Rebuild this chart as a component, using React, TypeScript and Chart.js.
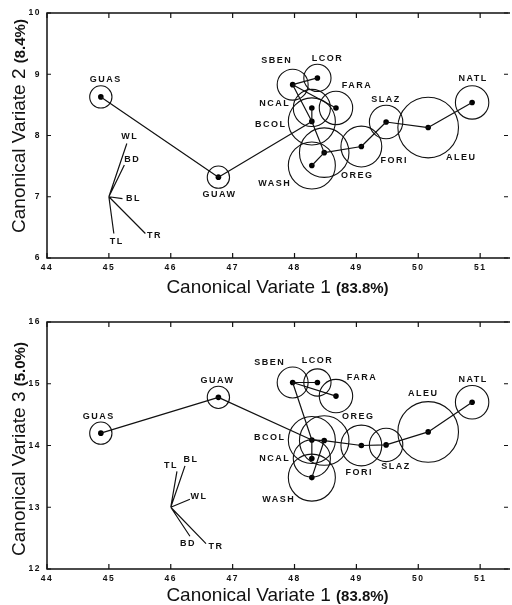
import React, { useEffect, useRef } from "react";
import { Chart, registerables } from "chart.js";

Chart.register(...registerables);

// ---------- data ----------
const populations = ["GUAS", "GUAW", "SBEN", "LCOR", "FARA", "NCAL", "BCOL", "OREG", "WASH", "FORI", "SLAZ", "ALEU", "NATL"];
const cv1 = [44.87, 46.77, 47.97, 48.37, 48.67, 48.28, 48.28, 48.48, 48.28, 49.08, 49.48, 50.16, 50.87];
const cv2 = [8.63, 7.32, 8.83, 8.94, 8.45, 8.45, 8.23, 7.72, 7.51, 7.82, 8.22, 8.13, 8.54];
const cv3 = [14.2, 14.78, 15.02, 15.02, 14.8, 13.79, 14.09, 14.08, 13.48, 14.0, 14.01, 14.22, 14.7];
const confRadius = [0.18, 0.18, 0.25, 0.22, 0.27, 0.3, 0.38, 0.4, 0.38, 0.33, 0.27, 0.49, 0.27];
const links: [string, string][] = [
  ["GUAS", "GUAW"], ["GUAW", "BCOL"], ["BCOL", "NCAL"], ["BCOL", "SBEN"], ["SBEN", "LCOR"], ["SBEN", "FARA"],
  ["BCOL", "OREG"], ["OREG", "WASH"], ["OREG", "FORI"], ["FORI", "SLAZ"], ["SLAZ", "ALEU"], ["ALEU", "NATL"],
];
const characters = ["WL", "BD", "BL", "TR", "TL"];
const vecOrigin12 = [45, 7];
const vec12x = [45.29, 45.25, 45.22, 45.59, 45.08];
const vec12y = [7.87, 7.52, 6.97, 6.4, 6.4];
const vecOrigin13 = [46, 13];
const vec13x = [46.31, 46.31, 46.23, 46.57, 46.1];
const vec13y = [13.13, 12.53, 13.67, 12.41, 13.58];
const xTicks = [44, 45, 46, 47, 48, 49, 50, 51];
const yTicks12 = [6, 7, 8, 9, 10];
const yTicks13 = [12, 13, 14, 15, 16];
const xTitle = ["Canonical Variate 1", "(83.8%)"];
const yTitle12 = ["Canonical Variate 2", "(8.4%)"];
const yTitle13 = ["Canonical Variate 3", "(5.0%)"];

// ---------- label placement (pixel offsets, style only) ----------
const popOff12 = [[5, -17], [1, 17], [-16, -24], [10, -19], [21, -22], [-37, -4], [-41, 3], [33, 23], [-37, 18], [33, 14], [0, -23], [33, 30], [1, -24]];
const popOff13 = [[-2, -17], [-1, -17], [-23, -20], [0, -22], [26, -19], [-37, 0], [-42, -2], [34, -24], [-33, 22], [-2, 27], [10, 22], [-5, -38], [1, -23]];
const vecOff12 = [[3, -7], [8, -5], [11, 0], [9, 2], [3, 8]];
const vecOff13 = [[9, -3], [-2, 7], [6, -6], [10, 3], [-6, -6]];

const FONT = "'Liberation Sans', Arial, Helvetica, sans-serif";
const INK = "#111";

type Spec = {
  yVals: number[];
  yMin: number;
  yMax: number;
  yTicks: number[];
  vecX: number[];
  vecY: number[];
  origin: number[];
  popOff: number[][];
  vecOff: number[][];
  yTitle: string[];
  areaTop: number;
  xAxisHeight: number;
  xTitleBase: number;
  yTitleCenter: number;
};

function drawTitle(ctx: CanvasRenderingContext2D, cx: number, cy: number, rot: number, parts: string[]) {
  ctx.save();
  (ctx as any).letterSpacing = "0px";
  ctx.translate(cx, cy);
  ctx.rotate(rot);
  ctx.fillStyle = INK;
  ctx.textBaseline = "alphabetic";
  ctx.textAlign = "left";
  const f1 = `19px ${FONT}`;
  const f2 = `bold 15px ${FONT}`;
  ctx.font = f1;
  const w1 = ctx.measureText(parts[0] + " ").width;
  ctx.font = f2;
  const w2 = ctx.measureText(parts[1]).width;
  const start = -(w1 + w2) / 2;
  ctx.font = f1;
  ctx.fillText(parts[0] + " ", start, 0);
  ctx.font = f2;
  ctx.fillText(parts[1], start + w1, 0);
  ctx.restore();
}

function makeConfig(spec: Spec): any {
  const idx = (n: string) => populations.indexOf(n);
  const linkData = links.flatMap(([a, b]) => {
    const i = idx(a);
    const j = idx(b);
    return [
      { x: cv1[i], y: spec.yVals[i] },
      { x: cv1[j], y: spec.yVals[j] },
      { x: cv1[j], y: null },
    ];
  });
  const vecData = characters.flatMap((_, k) => [
    { x: spec.origin[0], y: spec.origin[1] },
    { x: spec.vecX[k], y: spec.vecY[k] },
    { x: spec.vecX[k], y: null },
  ]);
  const popData = populations.map((_, i) => ({ x: cv1[i], y: spec.yVals[i] }));

  const tickFont = { family: FONT, size: 8.5, weight: "bold" as const };

  const framePlugin = {
    id: "frame",
    beforeDraw(chart: any) {
      (chart.ctx as any).letterSpacing = "1.5px";
    },
    beforeDatasetsDraw(chart: any) {
      const { ctx, chartArea: a, scales } = chart;
      ctx.save();
      ctx.strokeStyle = INK;
      ctx.lineWidth = 1.5;
      ctx.beginPath();
      ctx.moveTo(a.right + 2, a.top);
      ctx.lineTo(a.left, a.top);
      ctx.lineTo(a.left, a.bottom);
      ctx.lineTo(a.right + 2, a.bottom);
      ctx.stroke();
      ctx.lineWidth = 1.2;
      ctx.beginPath();
      for (const v of xTicks) {
        const px = scales.x.getPixelForValue(v);
        ctx.moveTo(px, a.bottom);
        ctx.lineTo(px, a.bottom - 5);
        ctx.moveTo(px, a.top);
        ctx.lineTo(px, a.top + 5);
      }
      for (const v of spec.yTicks) {
        const py = scales.y.getPixelForValue(v);
        ctx.moveTo(a.left, py);
        ctx.lineTo(a.left + 4, py);
        ctx.moveTo(a.right, py);
        ctx.lineTo(a.right - 4, py);
      }
      ctx.stroke();
      ctx.restore();
    },
    afterDatasetsDraw(chart: any) {
      const { ctx, scales } = chart;
      ctx.save();
      (ctx as any).letterSpacing = "1.5px";
      ctx.fillStyle = INK;
      ctx.font = `bold 9px ${FONT}`;
      ctx.textAlign = "center";
      ctx.textBaseline = "middle";
      populations.forEach((name, i) => {
        const px = scales.x.getPixelForValue(cv1[i]);
        const py = scales.y.getPixelForValue(spec.yVals[i]);
        ctx.fillText(name, px + spec.popOff[i][0], py + spec.popOff[i][1]);
      });
      characters.forEach((c, k) => {
        const px = scales.x.getPixelForValue(spec.vecX[k]);
        const py = scales.y.getPixelForValue(spec.vecY[k]);
        ctx.fillText(c, px + spec.vecOff[k][0], py + spec.vecOff[k][1]);
      });
      ctx.restore();
    },
    afterDraw(chart: any) {
      const { ctx, chartArea: a } = chart;
      drawTitle(ctx, (a.left + a.right) / 2, a.bottom + spec.xTitleBase, 0, xTitle);
      drawTitle(ctx, 25, spec.yTitleCenter, -Math.PI / 2, spec.yTitle);
      (ctx as any).letterSpacing = "0px";
    },
  };

  return {
    type: "scatter",
    data: {
      datasets: [
        {
          data: linkData,
          showLine: true,
          spanGaps: false,
          borderColor: INK,
          borderWidth: 1.2,
          pointRadius: 0,
          clip: false,
        },
        {
          data: vecData,
          showLine: true,
          spanGaps: false,
          borderColor: INK,
          borderWidth: 1.2,
          pointRadius: 0,
          clip: false,
        },
        {
          data: popData,
          pointRadius: (c: any) => {
            const s = c.chart.scales.x;
            const i = c.dataIndex;
            return s.getPixelForValue(cv1[i] + confRadius[i]) - s.getPixelForValue(cv1[i]);
          },
          backgroundColor: "rgba(0,0,0,0)",
          borderColor: INK,
          borderWidth: 1.1,
          clip: false,
        },
        {
          data: popData,
          pointRadius: 2.8,
          backgroundColor: "#000",
          borderWidth: 0,
          clip: false,
        },
      ],
    },
    options: {
      animation: false,
      responsive: false,
      events: [],
      layout: { padding: { top: spec.areaTop, left: 0, right: 0, bottom: 0 } },
      plugins: { legend: { display: false }, tooltip: { enabled: false }, title: { display: false } },
      scales: {
        x: {
          type: "linear",
          min: 44,
          max: 51.45,
          afterBuildTicks: (s: any) => {
            s.ticks = xTicks.map((v) => ({ value: v }));
          },
          afterFit: (s: any) => {
            s.height = spec.xAxisHeight;
          },
          grid: { display: false, drawTicks: false },
          border: { display: false },
          ticks: { font: tickFont, color: INK, padding: 5, maxRotation: 0, autoSkip: false },
        },
        y: {
          type: "linear",
          min: spec.yMin,
          max: spec.yMax,
          afterBuildTicks: (s: any) => {
            s.ticks = spec.yTicks.map((v) => ({ value: v }));
          },
          afterFit: (s: any) => {
            s.width = 47;
          },
          grid: { display: false, drawTicks: false },
          border: { display: false },
          ticks: { font: tickFont, color: INK, padding: 6, autoSkip: false },
        },
      },
    },
    plugins: [framePlugin],
  };
}

export default function App() {
  const topRef = useRef<HTMLCanvasElement>(null);
  const botRef = useRef<HTMLCanvasElement>(null);

  useEffect(() => {
    document.body.style.margin = "0";
    const c1 = new Chart(
      topRef.current as HTMLCanvasElement,
      makeConfig({
        yVals: cv2,
        yMin: 6,
        yMax: 10,
        yTicks: yTicks12,
        vecX: vec12x,
        vecY: vec12y,
        origin: vecOrigin12,
        popOff: popOff12,
        vecOff: vecOff12,
        yTitle: yTitle12,
        areaTop: 13,
        xAxisHeight: 42,
        xTitleBase: 35,
        yTitleCenter: 126,
      })
    );
    const c2 = new Chart(
      botRef.current as HTMLCanvasElement,
      makeConfig({
        yVals: cv3,
        yMin: 12,
        yMax: 16,
        yTicks: yTicks13,
        vecX: vec13x,
        vecY: vec13y,
        origin: vecOrigin13,
        popOff: popOff13,
        vecOff: vecOff13,
        yTitle: yTitle13,
        areaTop: 22,
        xAxisHeight: 36,
        xTitleBase: 32,
        yTitleCenter: 149,
      })
    );
    return () => {
      c1.destroy();
      c2.destroy();
    };
  }, []);

  return (
    <div style={{ width: 512, background: "#fff" }}>
      <canvas ref={topRef} width={512} height={300} style={{ display: "block" }} />
      <canvas ref={botRef} width={512} height={305} style={{ display: "block" }} />
    </div>
  );
}
